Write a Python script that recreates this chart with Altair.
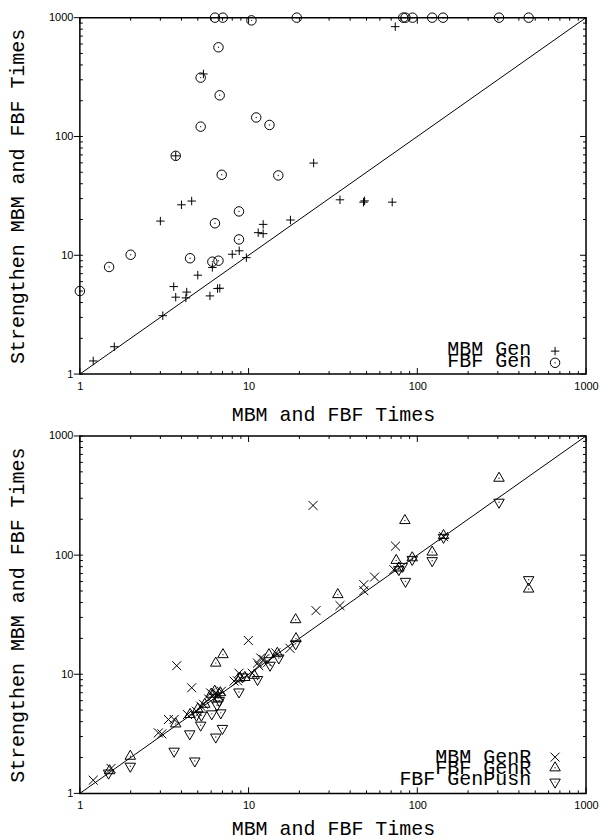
import altair as alt
import pandas as pd

# ---------------- data ----------------
# top panel
mbm_gen_x = [1.2, 1.6, 3.1, 3.0, 4.0, 4.6, 12.2, 11.4, 12.2, 17.7, 8.0, 8.8, 9.7, 6.1, 5.0,
             3.6, 3.7, 4.3, 4.25, 5.9, 6.55, 6.75, 34.8, 48.0, 48.7, 71.0, 24.3, 5.4, 3.7, 74.0]
mbm_gen_y = [1.29, 1.7, 3.1, 19.4, 26.6, 28.6, 18.2, 15.5, 15.2, 19.8, 10.2, 10.9, 9.55, 7.9, 6.8,
             5.45, 4.44, 4.9, 4.38, 4.55, 5.25, 5.28, 29.3, 28.0, 28.7, 28.0, 59.7, 336, 68.7, 840]
fbf_gen_x = [1.0, 1.49, 2.0, 4.5, 6.1, 6.63, 8.77, 6.32, 8.77, 6.93, 15.0, 3.7, 5.2, 13.3, 11.1,
             6.74, 5.2, 6.63, 10.4, 6.32, 7.03, 19.3, 82.5, 85.1, 93.7, 122.5, 142, 305, 457]
fbf_gen_y = [5.0, 7.97, 10.1, 9.44, 8.83, 9.0, 13.6, 18.6, 23.4, 47.6, 47.0, 68.7, 121, 125, 144.5,
             222, 313, 563, 949, 1000, 1000, 1000, 1000, 1000, 1000, 1000, 1000, 1000, 1000]

# bottom panel
mbm_genr_x = [1.2, 1.53, 2.92, 3.06, 3.35, 3.62, 3.75, 4.34, 4.6, 4.9, 5.2, 5.4, 5.8, 5.96, 6.1,
              6.4, 6.6, 6.9, 8.2, 8.6, 8.77, 9.97, 10.5, 11.3, 11.5, 11.8, 12.3, 13.0, 14.5, 17.6,
              24.1, 25.1, 34.8, 48.2, 48.2, 55.8, 72.6, 74.3, 143]
mbm_genr_y = [1.29, 1.62, 3.22, 3.16, 4.17, 4.17, 11.8, 4.59, 7.7, 4.9, 5.4, 5.6, 6.2, 6.97, 6.5,
              7.0, 6.6, 7.2, 8.76, 8.8, 10.2, 19.2, 10.2, 12.4, 11.8, 13.7, 13.3, 12.6, 15.1, 16.5,
              261, 34.2, 37.7, 56.5, 50.3, 65.4, 75.5, 119, 143]
fbf_genr_x = [1.5, 1.99, 3.7, 4.5, 5.0, 5.5, 6.0, 6.3, 6.39, 6.6, 6.8, 7.05, 8.9, 9.5, 10.8,
              13.2, 14.8, 19.0, 19.1, 33.8, 75.0, 77.7, 84.4, 93.3, 122.5, 143, 305, 457]
fbf_genr_y = [1.55, 2.05, 3.83, 4.6, 5.1, 5.6, 6.8, 7.2, 12.4, 6.3, 7.0, 14.6, 9.3, 9.4, 9.8,
              14.6, 15.0, 28.7, 19.9, 46.6, 90.3, 78.0, 195, 95.0, 106, 146, 442, 51.9]
fbf_genpush_x = [1.48, 1.99, 3.62, 4.48, 4.8, 4.91, 5.25, 5.2, 6.05, 6.39, 6.84, 7.0, 6.5, 6.7,
                 8.77, 9.2, 11.3, 13.4, 15.1, 19.0, 77.7, 81.4, 85.1, 93.3, 122.5, 143, 305, 457]
fbf_genpush_y = [1.48, 1.69, 2.26, 3.16, 1.87, 4.53, 4.53, 3.74, 4.65, 2.97, 4.74, 3.51, 5.5, 6.0,
                 7.1, 9.5, 9.03, 11.9, 13.7, 18.0, 75.5, 80.4, 60.2, 92.0, 89.8, 141, 278, 62.2]

tick_labels = [1, 10, 100, 1000]
minor_ticks = [2, 3, 4, 5, 6, 7, 8, 9, 20, 30, 40, 50, 60, 70, 80, 90,
               200, 300, 400, 500, 600, 700, 800, 900]
diagonal = [1, 1000]

legend_top = ["MBM Gen", "FBF Gen"]
legend_bottom = ["MBM GenR", "FBF GenR", "FBF GenPush"]
x_title = "MBM and FBF Times"
y_title = "Strengthen MBM and FBF Times"

# ---------------- styling ----------------
W = 507
MONO = "Liberation Mono"
SANS = "Liberation Sans"
PLUS = "M-1,0L1,0M0,-1L0,1"
CROSS = "M-1,-1L1,1M1,-1L-1,1"
TRI_UP = "M0,-1.155L1,0.577L-1,0.577Z"
TRI_DOWN = "M0,1.155L1,-0.577L-1,-0.577Z"

xscale = alt.Scale(type="log", domain=[1, 1000], nice=False)
yscale = alt.Scale(type="log", domain=[1, 1000], nice=False)


def make_xaxis(title_y):
    return alt.Axis(values=tick_labels, format="d", ticks=False, domain=False, grid=False,
                    labelFont=SANS, labelFontSize=11, labelColor="black", labelPadding=6,
                    labelFlush=False, labelOverlap=False,
                    title=x_title, titleFont=MONO, titleFontSize=20, titleFontWeight="normal",
                    titleColor="black", titleY=title_y, titleBaseline="alphabetic")


def make_yaxis(H):
    return alt.Axis(values=tick_labels, format="d", ticks=False, domain=False, grid=False,
                    labelFont=SANS, labelFontSize=11, labelColor="black", labelPadding=7,
                    labelFlush=False, labelOverlap=False,
                    title=y_title, titleFont=MONO, titleFontSize=20, titleFontWeight="normal",
                    titleColor="black", titleX=-56, titleY=H / 2, titleAngle=270,
                    titleAlign="center", titleBaseline="alphabetic")


def panel(H, title_y, point_specs, legend_specs):
    xa = make_xaxis(title_y)
    ya = make_yaxis(H)

    def X(f):
        return alt.X(f, scale=xscale, axis=xa, title=x_title)

    def Y(f):
        return alt.Y(f, scale=yscale, axis=ya, title=y_title)

    layers = []
    layers.append(alt.Chart(pd.DataFrame({"x": diagonal, "y": diagonal})).mark_line(
        color="black", strokeWidth=1).encode(x=X("x:Q"), y=Y("y:Q")))

    # tick marks on all four sides, positioned through the scales
    for vals, ln, left_out in [(tick_labels, 6, True), (minor_ticks, 3, False)]:
        base = alt.Chart(pd.DataFrame({"x": vals, "y": vals})).mark_rule(color="black", strokeWidth=1)
        layers.append(base.encode(x=X("x:Q"), y=alt.value(H), y2=alt.value(H - ln)))
        layers.append(base.encode(x=X("x:Q"), y=alt.value(0), y2=alt.value(ln)))
        if left_out:
            layers.append(base.encode(y=Y("y:Q"), x=alt.value(-ln), x2=alt.value(ln / 2)))
        else:
            layers.append(base.encode(y=Y("y:Q"), x=alt.value(0), x2=alt.value(ln)))
        layers.append(base.encode(y=Y("y:Q"), x=alt.value(W), x2=alt.value(W - ln)))

    for xs, ys, shape, size, dot in point_specs:
        df = pd.DataFrame({"x": xs, "y": ys})
        layers.append(alt.Chart(df).mark_point(shape=shape, size=size, filled=False, color="black",
                                               strokeWidth=1, opacity=1).encode(x=X("x:Q"), y=Y("y:Q")))
        if dot:
            layers.append(alt.Chart(df).mark_point(shape="circle", size=2, filled=True, color="black",
                                                   opacity=0.8).encode(x=X("x:Q"), y=Y("y:Q")))

    for label, ty, sy, shape, size, dot in legend_specs:
        df = pd.DataFrame({"label": [label]})
        layers.append(alt.Chart(df).mark_text(font=MONO, fontSize=20, align="right",
                                              baseline="alphabetic", color="black").encode(
            text="label:N", x=alt.value(452), y=alt.value(ty)))
        layers.append(alt.Chart(df).mark_point(shape=shape, size=size, filled=False, color="black",
                                               strokeWidth=1, opacity=1).encode(
            x=alt.value(476), y=alt.value(sy)))
        if dot:
            layers.append(alt.Chart(df).mark_point(shape="circle", size=2, filled=True, color="black",
                                                   opacity=0.8).encode(x=alt.value(476), y=alt.value(sy)))

    return alt.layer(*layers).properties(width=W, height=H)


top = panel(
    357, 46,
    [(mbm_gen_x, mbm_gen_y, PLUS, 72, False),
     (fbf_gen_x, fbf_gen_y, "circle", 90, True)],
    [(legend_top[0], 338, 334, PLUS, 72, False),
     (legend_top[1], 350.4, 345.7, "circle", 90, True)],
)

bottom = panel(
    358, 41,
    [(mbm_genr_x, mbm_genr_y, CROSS, 81, False),
     (fbf_genr_x, fbf_genr_y, TRI_UP, 110, True),
     (fbf_genpush_x, fbf_genpush_y, TRI_DOWN, 110, True)],
    [(legend_bottom[0], 327.4, 321.7, CROSS, 81, False),
     (legend_bottom[1], 338.4, 332.4, TRI_UP, 110, True),
     (legend_bottom[2], 349.7, 346.7, TRI_DOWN, 110, True)],
)

chart = alt.vconcat(top, bottom, spacing=62, bounds="flush").properties(
    padding={"left": 7, "top": 9, "right": 2, "bottom": 2},
    background="white",
).configure_view(stroke="black", strokeWidth=1.5)

chart.save("out.html", embed_options={"renderer": "svg", "actions": False})
